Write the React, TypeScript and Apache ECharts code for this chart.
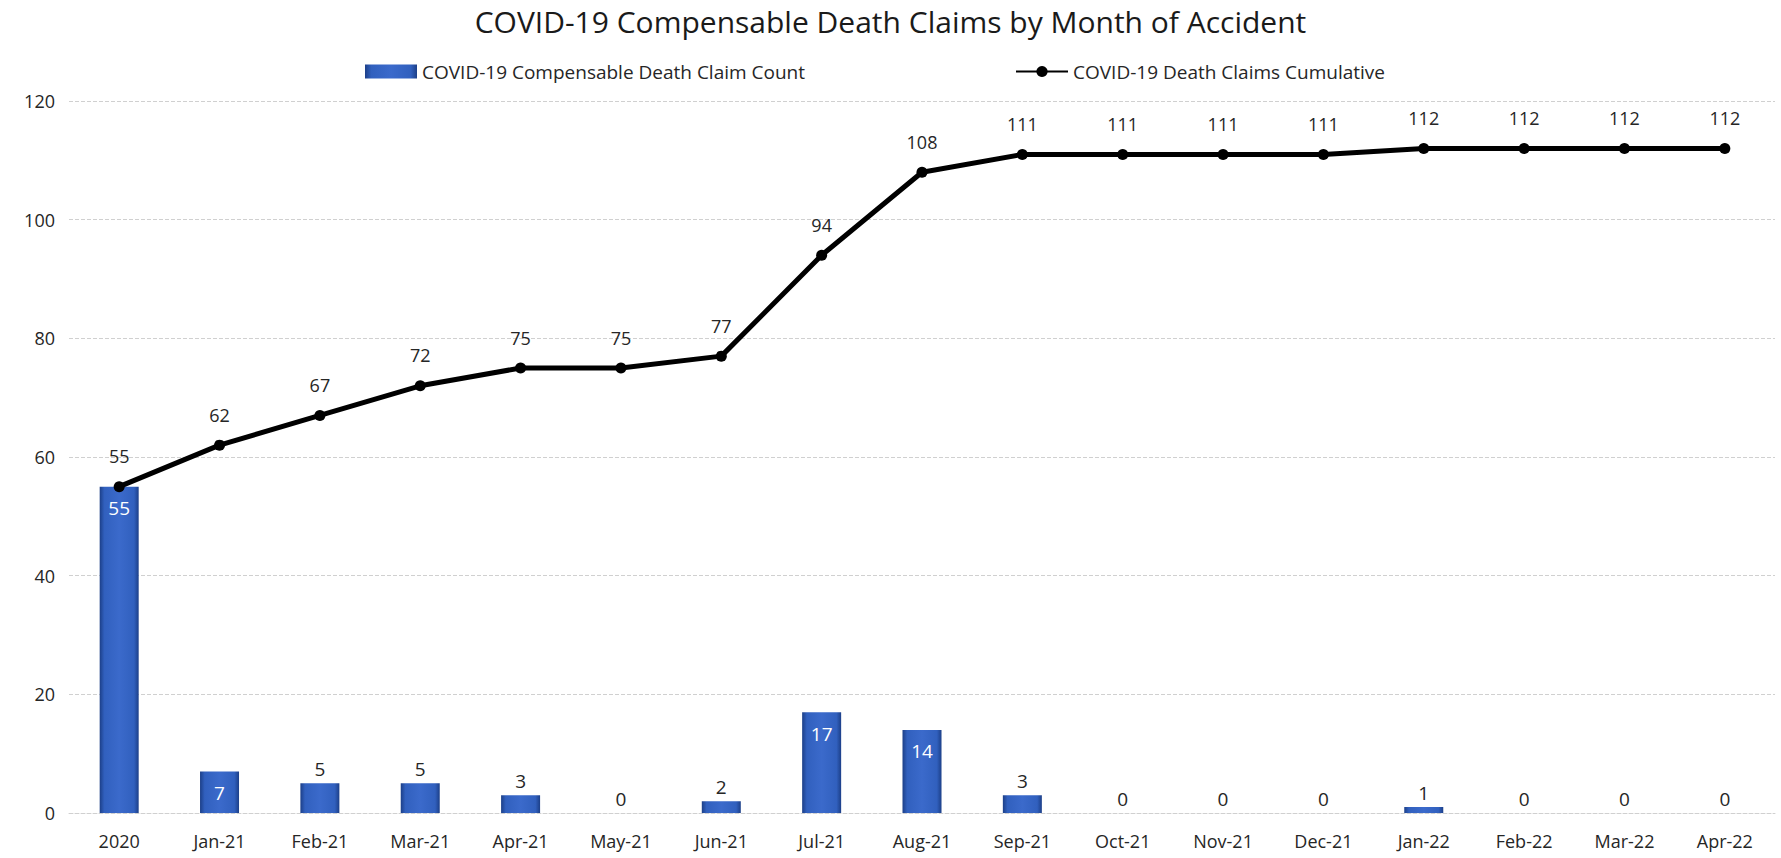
import React, { useEffect, useRef } from "react";
import * as echarts from "echarts";

const categories = ["2020", "Jan-21", "Feb-21", "Mar-21", "Apr-21", "May-21", "Jun-21", "Jul-21", "Aug-21", "Sep-21", "Oct-21", "Nov-21", "Dec-21", "Jan-22", "Feb-22", "Mar-22", "Apr-22"];
const monthlyCounts = [55, 7, 5, 5, 3, 0, 2, 17, 14, 3, 0, 0, 0, 1, 0, 0, 0];
const cumulative = [55, 62, 67, 72, 75, 75, 77, 94, 108, 111, 111, 111, 111, 112, 112, 112, 112];
const yTicks = { min: 0, max: 120, interval: 20 };

const TITLE = "COVID-19 Compensable Death Claims by Month of Accident";
const BAR_NAME = "COVID-19 Compensable Death Claim Count";
const LINE_NAME = "COVID-19 Death Claims Cumulative";
const INSIDE_LABEL_MIN = 7;
const FONT = "'Open Sans', 'Noto Sans', sans-serif";

export default function App() {
  const ref = useRef<HTMLDivElement>(null);

  useEffect(() => {
    document.body.style.margin = "0";
    if (!ref.current) return;
    const chart = echarts.init(ref.current, undefined, { renderer: "svg" });

    const barGradient = new echarts.graphic.LinearGradient(0, 0, 1, 0, [
      { offset: 0, color: "#1c3f88" },
      { offset: 0.12, color: "#3160be" },
      { offset: 0.5, color: "#3b6acb" },
      { offset: 0.88, color: "#3160be" },
      { offset: 1, color: "#1c3f88" },
    ]);

    const barData = monthlyCounts.map((v) =>
      v >= INSIDE_LABEL_MIN
        ? { value: v, label: { position: "insideTop", color: "#ffffff", distance: 12 } }
        : { value: v, label: { position: "top", color: "#262626", distance: 5 } }
    );

    chart.setOption({
      animation: false,
      backgroundColor: "#ffffff",
      textStyle: { fontFamily: FONT },
      title: {
        text: TITLE,
        left: "center",
        top: 1,
        textStyle: { fontFamily: FONT, fontSize: 30, fontWeight: "normal", color: "#1a1a1a" },
      },
      legend: {
        top: 57,
        left: 360,
        itemGap: 210,
        itemWidth: 52,
        itemHeight: 14,
        textStyle: { fontFamily: FONT, fontSize: 19, color: "#262626" },
        data: [
          { name: BAR_NAME, icon: "rect" },
          { name: LINE_NAME },
        ],
      },
      grid: { left: 69, right: 6, top: 101, bottom: 45, containLabel: false },
      xAxis: {
        type: "category",
        data: categories,
        axisTick: { show: false },
        axisLine: { show: true, lineStyle: { color: "#d0d0d0", type: "dashed", width: 1 } },
        axisLabel: { fontFamily: FONT, fontSize: 18, color: "#262626", margin: 19 },
      },
      yAxis: {
        type: "value",
        min: yTicks.min,
        max: yTicks.max,
        interval: yTicks.interval,
        axisLine: { show: false },
        axisTick: { show: false },
        axisLabel: { fontFamily: FONT, fontSize: 18, color: "#262626", margin: 14 },
        splitLine: { lineStyle: { color: "#d0d0d0", type: "dashed", width: 1 } },
      },
      series: [
        {
          name: BAR_NAME,
          type: "bar",
          barWidth: 39,
          data: barData,
          itemStyle: { color: barGradient, borderWidth: 0 },
          label: { show: true, fontFamily: FONT, fontSize: 19 },
          z: 2,
        },
        {
          name: LINE_NAME,
          type: "line",
          data: cumulative,
          symbol: "circle",
          symbolSize: 11,
          lineStyle: { color: "#000000", width: 5 },
          itemStyle: { color: "#000000" },
          label: { show: true, position: "top", distance: 16, fontFamily: FONT, fontSize: 18, color: "#262626" },
          z: 3,
        },
      ],
    });

    return () => chart.dispose();
  }, []);

  return <div ref={ref} style={{ width: 1781, height: 858 }} />;
}
